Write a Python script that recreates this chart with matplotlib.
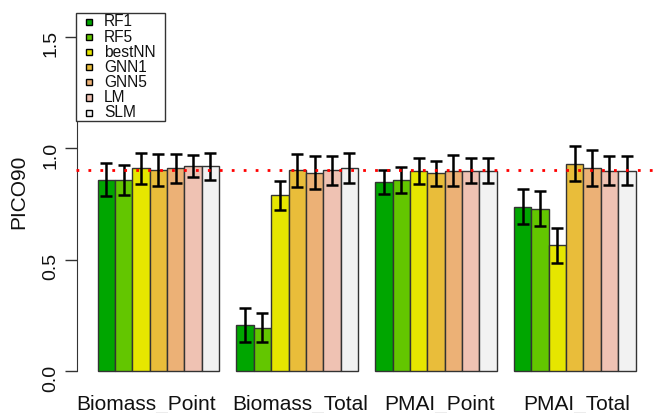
import numpy as np
import matplotlib
matplotlib.use("Agg")
import matplotlib.pyplot as plt
from matplotlib.patches import Rectangle
from matplotlib.transforms import blended_transform_factory

plt.rcParams['font.family'] = ['Liberation Sans', 'DejaVu Sans']

groups = ["Biomass_Point", "Biomass_Total", "PMAI_Point", "PMAI_Total"]
methods = ["RF1", "RF5", "bestNN", "GNN1", "GNN5", "LM", "SLM"]
colors = ["#00A600", "#63C600", "#E6E600", "#E9BD3A", "#ECB176", "#EFC2B3", "#F2F2F2"]

# values[method][group]
values = {
    "RF1":    [0.858, 0.205, 0.848, 0.737],
    "RF5":    [0.858, 0.195, 0.858, 0.728],
    "bestNN": [0.909, 0.788, 0.898, 0.564],
    "GNN1":   [0.900, 0.900, 0.886, 0.930],
    "GNN5":   [0.909, 0.889, 0.898, 0.909],
    "LM":     [0.919, 0.900, 0.898, 0.898],
    "SLM":    [0.918, 0.909, 0.898, 0.898],
}
errors = {
    "RF1":    [0.073, 0.077, 0.055, 0.078],
    "RF5":    [0.068, 0.065, 0.058, 0.079],
    "bestNN": [0.069, 0.065, 0.058, 0.079],
    "GNN1":   [0.072, 0.074, 0.057, 0.078],
    "GNN5":   [0.065, 0.075, 0.070, 0.080],
    "LM":     [0.049, 0.065, 0.055, 0.064],
    "SLM":    [0.061, 0.067, 0.055, 0.066],
}
yticks = [0.0, 0.5, 1.0, 1.5]
ytick_labels = ["0.0", "0.5", "1.0", "1.5"]
ref_line = 0.9

W, H = 656, 413
fig = plt.figure(figsize=(W / 100, H / 100), dpi=100)
# pixel geometry
x0_px = 80.3      # data x = 0
xunit = 17.35     # px per bar
y0_px = 371.0     # data y = 0
yunit = 223.0     # px per unit
xlim = (-0.25, 33.25)
ylim = (0.0, 1.61)
left = (x0_px + xlim[0] * xunit) / W
width = (xlim[1] - xlim[0]) * xunit / W
bottom = (H - y0_px) / H
height = (ylim[1] - ylim[0]) * yunit / H
ax = fig.add_axes([left, bottom, width, height])
ax.set_xlim(*xlim)
ax.set_ylim(*ylim)

n = len(methods)
for gi, g in enumerate(groups):
    start = gi * (n + 1) + 1
    for mi, m in enumerate(methods):
        xl = start + mi
        ax.bar(xl + 0.5, values[m][gi], width=1.0, color=colors[mi],
               edgecolor="#333333", linewidth=1.0, zorder=2, clip_on=False)
        ax.errorbar(xl + 0.5, values[m][gi], yerr=errors[m][gi], fmt="none",
                    ecolor="black", elinewidth=1.8, capsize=4.5, capthick=1.8, zorder=3)

ax.axhline(ref_line, color="red", linestyle=(0, (1, 3.3)), linewidth=2, zorder=4)

# group names (placed as in the reference: small horizontal shifts, in bar units)
label_shift = [-0.7, 0.2, 0.2, 0.1]
ax.set_xticks([])
trans = blended_transform_factory(ax.transData, fig.transFigure)
for gi, g in enumerate(groups):
    xc = gi * (n + 1) + 1 + n / 2 + label_shift[gi]
    ax.text(xc, 1 - 410 / H, g, transform=trans, ha="center", va="baseline",
            fontsize=15, color="#111111")

ax.tick_params(axis="y", length=8.5, width=1, color="#333333", pad=4,
               labelrotation=90, labelsize=14, labelcolor="#111111")
ax.set_yticks(yticks)
ax.set_yticklabels(ytick_labels)
for t in ax.get_yticklabels():
    t.set_rotation(90)
    t.set_va("center")
for s in ["top", "right", "bottom"]:
    ax.spines[s].set_visible(False)
ax.spines["left"].set_bounds(0, 1.5)
ax.spines["left"].set_position(("data", -0.2))
ax.spines["left"].set_color("#333333")
ax.set_ylabel("PICO90", fontsize=15, labelpad=10, color="#111111")

# manual legend (R style), positioned in figure pixels from top-left
def px(x, y):
    return (x / W, 1 - y / H)

lx0, ly0, lx1, ly1 = 76, 13, 165, 121
fig.patches.append(Rectangle(px(lx0, ly1), (lx1 - lx0) / W, (ly1 - ly0) / H,
                             transform=fig.transFigure, facecolor="white",
                             edgecolor="#333333", linewidth=1, zorder=10))
row0, drow = 22.0, 15.1
sq = 6.0
for i, (m, c) in enumerate(zip(methods, colors)):
    yc = row0 + i * drow
    fig.patches.append(Rectangle(px(89 - sq / 2, yc + sq / 2), sq / W, sq / H,
                                 transform=fig.transFigure, facecolor=c,
                                 edgecolor="black", linewidth=1, zorder=11))
    fig.text(*px(104, yc), m, fontsize=11.2, va="center", ha="left",
             color="#111111", zorder=12)

fig.savefig("out.png", dpi=100)
